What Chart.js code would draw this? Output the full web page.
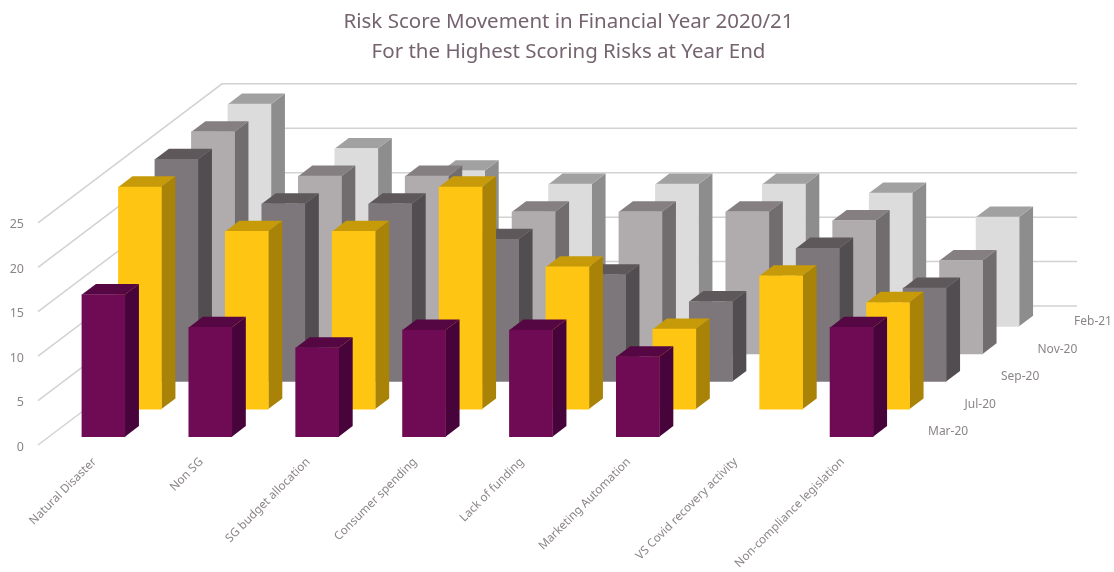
<!DOCTYPE html>
<html>
<head>
<meta charset="utf-8">
<title>Risk Score Movement</title>
<script src="https://cdn.jsdelivr.net/npm/chart.js@4"></script>
<style>
  body { margin: 0; background: #fff; }
</style>
</head>
<body>
<canvas id="myChart" width="1114" height="572"></canvas>
<script>
var categories = ["Natural Disaster", "Non SG", "SG budget allocation", "Consumer spending", "Lack of funding", "Marketing Automation", "VS Covid recovery activity", "Non-compliance legislation"];
var depthLabels = ["Mar-20", "Jul-20", "Sep-20", "Nov-20", "Feb-21"];
var yTicks = [0, 5, 10, 15, 20, 25];

var mar20 = [16, 12.3, 10, 12, 12, 9, null, 12.3];
var jul20 = [25, 20, 20, 25, 16, 9, 15, 12];
var sep20 = [25, 20, 20, 16, 12, 9, 15, 10.5];
var nov20 = [25, 20, 20, 16, 16, 16, 15, 10.5];
var feb21 = [25, 20, 17.5, 16, 16, 16, 15, 12.3];

var textColor = "#8b8588";
var gridColor = "#d2d2d2";
var fontName = "'Noto Sans'";

// front, side, top colour of each row, front row first
var faces = [
    ["#6f0b54", "#46043a", "#540742"],
    ["#fec513", "#a98208", "#c79a0a"],
    ["#7d777b", "#524d50", "#5e585b"],
    ["#b0abad", "#716d6f", "#857f82"],
    ["#dcdcdc", "#8d8d8d", "#a1a1a1"]
];

// the 3d look, in pixels
var rowStartX = 11, rowStartY = -8.3;
var rowStepX = 36.5, rowStepY = -27.6;
var sideX = 14, sideY = -10.6;
var wallX = 184, wallY = -139;

function poly(ctx, color, pts) {
    ctx.fillStyle = color;
    ctx.beginPath();
    ctx.moveTo(pts[0][0], pts[0][1]);
    for (var i = 1; i < pts.length; i++) {
        ctx.lineTo(pts[i][0], pts[i][1]);
    }
    ctx.closePath();
    ctx.fill();
}

var depthPlugin = {
    id: "depth",
    // walls: the gridlines go back from the front plane and then run to the right
    beforeDatasetsDraw: function (chart) {
        var ctx = chart.ctx, area = chart.chartArea, y = chart.scales.y;
        ctx.save();
        ctx.strokeStyle = gridColor;
        ctx.lineWidth = 1.5;
        yTicks.forEach(function (v) {
            var py = y.getPixelForValue(v);
            ctx.beginPath();
            ctx.moveTo(area.left - 1, py);
            ctx.lineTo(area.left - 1 + wallX, py + wallY);
            ctx.lineTo(area.right + wallX - 1, py + wallY);
            ctx.stroke();
        });
        ctx.restore();
    },
    // every row is the normal bar chart moved back, with side and top faces added
    beforeDatasetDraw: function (chart, args) {
        var ctx = chart.ctx, k = args.index;
        var meta = chart.getDatasetMeta(k);
        ctx.save();
        ctx.translate(rowStartX + rowStepX * k, rowStartY + rowStepY * k);
        meta.data.forEach(function (bar, i) {
            if (chart.data.datasets[k].data[i] === null) return;
            var half = bar.width / 2;
            var l = bar.x - half, r = bar.x + half;
            poly(ctx, faces[k][1], [[r, bar.y], [r + sideX, bar.y + sideY], [r + sideX, bar.base + sideY], [r, bar.base]]);
            poly(ctx, faces[k][2], [[l, bar.y], [l + sideX, bar.y + sideY], [r + sideX, bar.y + sideY], [r, bar.y]]);
        });
    },
    afterDatasetDraw: function (chart) {
        chart.ctx.restore();
    },
    // row names along the right hand floor edge
    afterDraw: function (chart) {
        var ctx = chart.ctx, area = chart.chartArea, y = chart.scales.y;
        ctx.save();
        ctx.fillStyle = textColor;
        ctx.font = "12px " + fontName;
        ctx.textBaseline = "middle";
        chart.scales.depth.getLabels().forEach(function (label, k) {
            ctx.fillText(label, area.right + 34 + rowStepX * k, y.getPixelForValue(0) - 13 + rowStepY * k);
        });
        ctx.restore();
    }
};

var rows = [mar20, jul20, sep20, nov20, feb21];

window.onload = function () {
    var ctx = document.getElementById("myChart").getContext("2d");
    var chart = new Chart(ctx, {
        type: "bar",
        data: {
            labels: categories,
            datasets: rows.map(function (row, k) {
                return {
                    label: depthLabels[k],
                    data: row,
                    backgroundColor: faces[k][0],
                    barThickness: 43,
                    grouped: false,
                    clip: false
                };
            })
        },
        plugins: [depthPlugin],
        options: {
            responsive: false,
            animation: false,
            // the negative right padding moves the centred title to the right
            layout: { padding: { left: 0, right: -23, top: 0, bottom: 0 } },
            plugins: {
                legend: { display: false },
                tooltip: { enabled: false },
                title: {
                    display: true,
                    text: ["Risk Score Movement in Financial Year 2020/21", "For the Highest Scoring Risks at Year End"],
                    color: "#75646f",
                    font: { family: fontName, size: 20.5, weight: "normal", lineHeight: 1.46 },
                    padding: { top: 7, bottom: 156 }
                }
            },
            scales: {
                x: {
                    grid: { display: false, drawTicks: false },
                    border: { display: false },
                    ticks: {
                        autoSkip: false,
                        minRotation: 45,
                        maxRotation: 45,
                        padding: 10,
                        labelOffset: 2,
                        color: textColor,
                        font: { family: fontName, size: 11.7 }
                    },
                    afterFit: function (scale) { scale.height = 127; }
                },
                y: {
                    min: 0,
                    max: 25,
                    grid: { display: false, drawTicks: false },
                    border: { display: false },
                    ticks: {
                        stepSize: 5,
                        padding: 15,
                        labelOffset: 2,
                        color: textColor,
                        font: { family: fontName, size: 12.5 }
                    },
                    afterFit: function (scale) { scale.width = 39; }
                },
                // holds the row names, and keeps the room for the depth of the chart on the right
                depth: {
                    type: "category",
                    axis: "y",
                    position: "right",
                    labels: depthLabels,
                    grid: { display: false, drawTicks: false },
                    border: { display: false },
                    ticks: { display: false },
                    afterFit: function (scale) { scale.width = 243; }
                }
            }
        }
    });
};
</script>
</body>
</html>
